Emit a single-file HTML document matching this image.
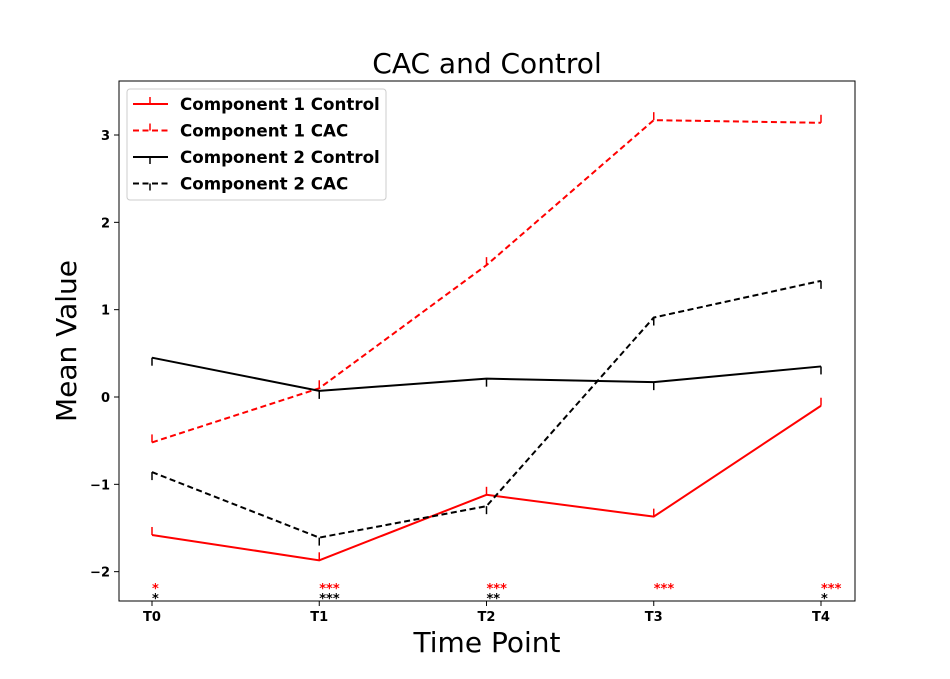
<!DOCTYPE html>
<html><head><meta charset="utf-8"><style>
body{margin:0;background:#fff;font-family:"DejaVu Sans",sans-serif}
svg text{font-family:"DejaVu Sans",sans-serif}
</style></head><body>
<svg id="c" width="950" height="675" xmlns="http://www.w3.org/2000/svg"></svg>
<script>
const categories=["T0","T1","T2","T3","T4"];
const c1Control=[-1.58,-1.87,-1.12,-1.37,-0.10];
const c1Cac=[-0.52,0.10,1.51,3.17,3.14];
const c2Control=[0.45,0.07,0.21,0.17,0.35];
const c2Cac=[-0.86,-1.61,-1.25,0.91,1.33];
const yTicks=[-2,-1,0,1,2,3];
const sigRed=["*","***","***","***","***"];
const sigBlack=["*","***","**","","*"];
const NS="http://www.w3.org/2000/svg";
const svg=document.getElementById('c');
const L=119,R=855,T=81,B=601;
const x=i=>152+i*(821-152)/(categories.length-1);
const y=v=>397-87.33*v;
function el(t,a,p){const e=document.createElementNS(NS,t);for(const k in a)e.setAttribute(k,a[k]);(p||svg).appendChild(e);return e;}
const title=el('text',{x:487,y:73,'text-anchor':'middle','font-size':28});title.textContent='CAC and Control';

const xt=el('text',{x:487,y:652,'text-anchor':'middle','font-size':28});xt.textContent='Time Point';

const yt=el('text',{x:0,y:0,'text-anchor':'middle','font-size':28,transform:'translate(76,341) rotate(-90)'});yt.textContent='Mean Value';

categories.forEach((c,i)=>{
 el('line',{x1:x(i),x2:x(i),y1:B,y2:B+5,stroke:'#000'});
 const t=el('text',{x:x(i),y:B+20,'text-anchor':'middle','font-size':13,'font-weight':'bold'});t.textContent=c;
 
 const s1=el('text',{x:x(i),y:593,'font-size':13,'font-weight':'bold',fill:'red'});s1.textContent=sigRed[i];
 
 const s2=el('text',{x:x(i),y:603,'font-size':13,'font-weight':'bold',fill:'#000'});s2.textContent=sigBlack[i];
 
});
yTicks.forEach(v=>{
 el('line',{x1:L-5,x2:L,y1:y(v),y2:y(v),stroke:'#000'});
 const t=el('text',{x:L-9,y:y(v)+5,'text-anchor':'end','font-size':13,'font-weight':'bold'});t.textContent=v<0?'\u2212'+(-v):v;
 
});
function series(data,color,dash,up,name){
 const g=el('g',{});
 
 el('polyline',{points:data.map((v,i)=>x(i)+','+y(v)).join(' '),fill:'none',stroke:color,'stroke-width':2,'stroke-dasharray':dash||'none'},g);
 data.forEach((v,i)=>{el('line',{x1:x(i),x2:x(i),y1:y(v),y2:y(v)+(up?-8:8),stroke:color,'stroke-width':1.5},g);});
}
series(c1Control,'red',null,true,'series-c1-control');
series(c1Cac,'red','6,3.5',true,'series-c1-cac');
series(c2Control,'#000',null,false,'series-c2-control');
series(c2Cac,'#000','6,3.5',false,'series-c2-cac');
el('rect',{x:L,y:T,width:R-L,height:B-T,fill:'none',stroke:'#000','stroke-width':1});
const lg=el('g',{});
el('rect',{x:127,y:89,width:259,height:111,rx:3,fill:'#fff',stroke:'#ccc'},lg);
[['Component 1 Control','red',null,true],['Component 1 CAC','red','6,3.5',true],['Component 2 Control','#000',null,false],['Component 2 CAC','#000','6,3.5',false]].forEach((e,k)=>{
 const yy=104+k*26.5;
 el('line',{x1:133,x2:168,y1:yy,y2:yy,stroke:e[1],'stroke-width':2,'stroke-dasharray':e[2]||'none'},lg);
 el('line',{x1:150,x2:150,y1:yy,y2:yy+(e[3]?-7:7),stroke:e[1],'stroke-width':1.5},lg);
 const t=el('text',{x:180,y:yy+6,'font-size':16.7,'font-weight':'bold'},lg);t.textContent=e[0];
 
});
</script>
</body></html>
